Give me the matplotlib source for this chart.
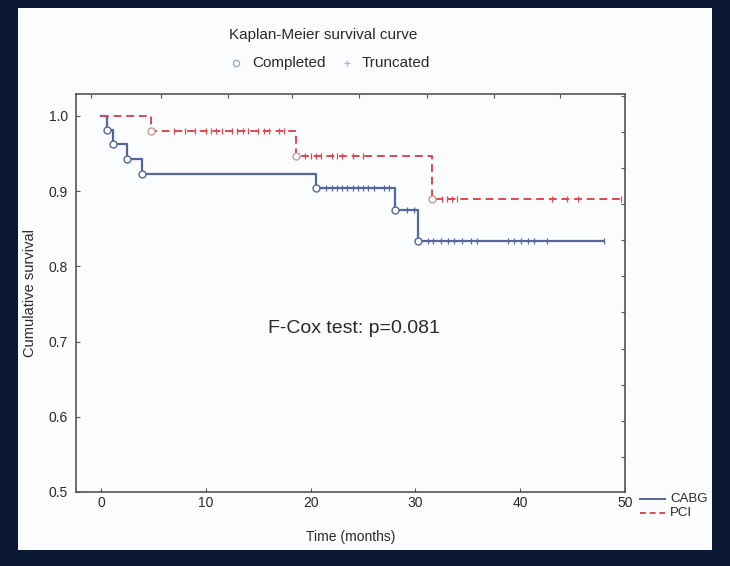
import matplotlib
matplotlib.use("Agg")
import matplotlib.pyplot as plt
from matplotlib.patches import Rectangle
from matplotlib.lines import Line2D
import numpy as np

plt.rcParams['font.family'] = ['Liberation Sans', 'DejaVu Sans']

# ---- data ----
cabg_times = [0, 0.6, 1.1, 2.5, 3.9, 20.5, 28.0, 30.2, 48.0]
cabg_surv = [1.0, 0.981, 0.962, 0.942, 0.923, 0.904, 0.875, 0.833, 0.833]
cabg_event_times = [0.6, 1.1, 2.5, 3.9, 20.5, 28.0, 30.2]
cabg_event_surv = [0.981, 0.962, 0.942, 0.923, 0.904, 0.875, 0.833]
cabg_cens_times = [21.5, 22.0, 22.5, 23.0, 23.5, 24.0, 24.5, 25.0, 25.5, 26.0, 27.0, 27.5,
                   29.2, 29.9,
                   31.2, 31.7, 32.4, 33.1, 33.7, 34.4, 35.3, 35.9, 38.8, 39.4, 40.1, 40.7, 41.3, 42.6, 48.0]
cabg_cens_surv = [0.904] * 12 + [0.875] * 2 + [0.833] * 15

pci_times = [0, 4.8, 18.6, 31.6, 49.6]
pci_surv = [1.0, 0.980, 0.947, 0.890, 0.890]
pci_event_times = [4.8, 18.6, 31.6]
pci_event_surv = [0.980, 0.947, 0.890]
pci_cens_times = [7.0, 8.0, 9.0, 10.0, 10.5, 11.0, 11.5, 12.5, 13.0, 13.5, 14.0, 15.0, 15.5, 16.0, 17.0, 17.5,
                  19.5, 20.0, 20.5, 21.0, 22.0, 22.5, 23.0, 24.0, 25.0,
                  32.5, 33.0, 33.5, 34.0, 43.0, 44.5, 45.5, 49.6]
pci_cens_surv = [0.980] * 16 + [0.947] * 9 + [0.890] * 8

x_ticks = [0, 10, 20, 30, 40, 50]
y_ticks = [0.5, 0.6, 0.7, 0.8, 0.9, 1.0]

CABG_C = '#56669a'
PCI_C = '#e0474f'
TXT = '#2a2a2a'

W, H = 730, 566
fig = plt.figure(figsize=(W / 100, H / 100), dpi=100)
fig.patch.set_facecolor('#0b1834')
fig.patches.append(Rectangle((18 / W, 1 - 550 / H), (712 - 18) / W, (550 - 8) / H,
                             transform=fig.transFigure, facecolor='#fbfcfe', edgecolor='none', zorder=-10))

left, right, top, bottom = 76, 625, 94, 492
ax = fig.add_axes([left / W, 1 - bottom / H, (right - left) / W, (bottom - top) / H])
ax.set_zorder(5)
ax.set_facecolor('#fbfcfe')

ax.step(cabg_times, cabg_surv, where='post', color=CABG_C, lw=1.6, zorder=3)
ax.step(pci_times, pci_surv, where='post', color=PCI_C, lw=1.4, ls=(0, (4, 2.5)), zorder=3)

ax.plot(cabg_event_times, cabg_event_surv, 'o', ms=5, mfc='white', mec=CABG_C, mew=1.0, zorder=4)
ax.plot(pci_event_times, pci_event_surv, 'o', ms=5, mfc='white', mec='#c99a9a', mew=1.0, zorder=4)
ax.plot(cabg_cens_times, cabg_cens_surv, '|', ms=4, color=CABG_C, mew=0.9, zorder=4)
ax.plot(pci_cens_times, pci_cens_surv, '|', ms=4, color=PCI_C, mew=0.9, zorder=4)

ax.set_xlim(-2.4, 50)
ax.set_ylim(0.5, 1.029)
ax.set_xticks(x_ticks)
ax.set_yticks(y_ticks)
ax.set_xticklabels([str(v) for v in x_ticks])
ax.set_yticklabels(['%.1f' % v for v in y_ticks])
ax.tick_params(direction='in', length=3, width=0.8, labelsize=10, colors='#555555', labelcolor=TXT, pad=6)
ax.tick_params(axis='x', pad=3)
for s in ax.spines.values():
    s.set_color('#555555')
    s.set_linewidth(1.2)

# top and right tick marks (no labels)
axt = ax.secondary_xaxis('top', functions=(lambda v: v, lambda v: v))
axt.set_xticks([-1.0, 5.7, 12.1, 18.2, 24.6, 31.1, 37.5, 43.8])
axt.tick_params(direction='in', length=3, width=0.8, labeltop=False, colors='#555555')
axr = ax.secondary_yaxis('right', functions=(lambda v: v, lambda v: v))
axr.set_yticks(list(np.arange(0.5466, 1.03, 0.048)))
axr.tick_params(direction='in', length=3, width=0.8, labelright=False, colors='#555555')
axt.spines['top'].set_visible(False)
axr.spines['right'].set_visible(False)

ax.set_xlabel('Time (months)', fontsize=10, color=TXT, labelpad=14)
ax.set_ylabel('Cumulative survival', fontsize=10.5, color=TXT, labelpad=8)

ax.text(24.1, 0.717, 'F-Cox test: p=0.081', fontsize=14, color=TXT, ha='center', va='center')

# title and marker legend
fig.text(323 / W, 1 - 35 / H, 'Kaplan-Meier survival curve', fontsize=11, color=TXT, ha='center', va='center')
fig.add_artist(Line2D([236 / W], [1 - 63 / H], marker='o', ms=4.5, mfc='white', mec='#9aa4b8', mew=0.9,
                      transform=fig.transFigure))
fig.text(252 / W, 1 - 63 / H, 'Completed', fontsize=11, color=TXT, ha='left', va='center')
fig.add_artist(Line2D([347 / W], [1 - 63 / H], marker='+', ms=4.5, color='#b0b6c4', mew=0.9,
                      transform=fig.transFigure))
fig.text(362 / W, 1 - 63 / H, 'Truncated', fontsize=11, color=TXT, ha='left', va='center')

# group legend at right
fig.add_artist(Line2D([640 / W, 665 / W], [1 - 499 / H] * 2, color=CABG_C, lw=1.4, transform=fig.transFigure))
fig.text(670 / W, 1 - 499 / H, 'CABG', fontsize=9.5, color=TXT, ha='left', va='center')
fig.add_artist(Line2D([640 / W, 665 / W], [1 - 513 / H] * 2, color=PCI_C, lw=1.4, ls=(0, (3, 2)),
                      transform=fig.transFigure))
fig.text(670 / W, 1 - 513 / H, 'PCI', fontsize=9.5, color=TXT, ha='left', va='center')

fig.savefig('out.png', dpi=100, facecolor=fig.get_facecolor())
